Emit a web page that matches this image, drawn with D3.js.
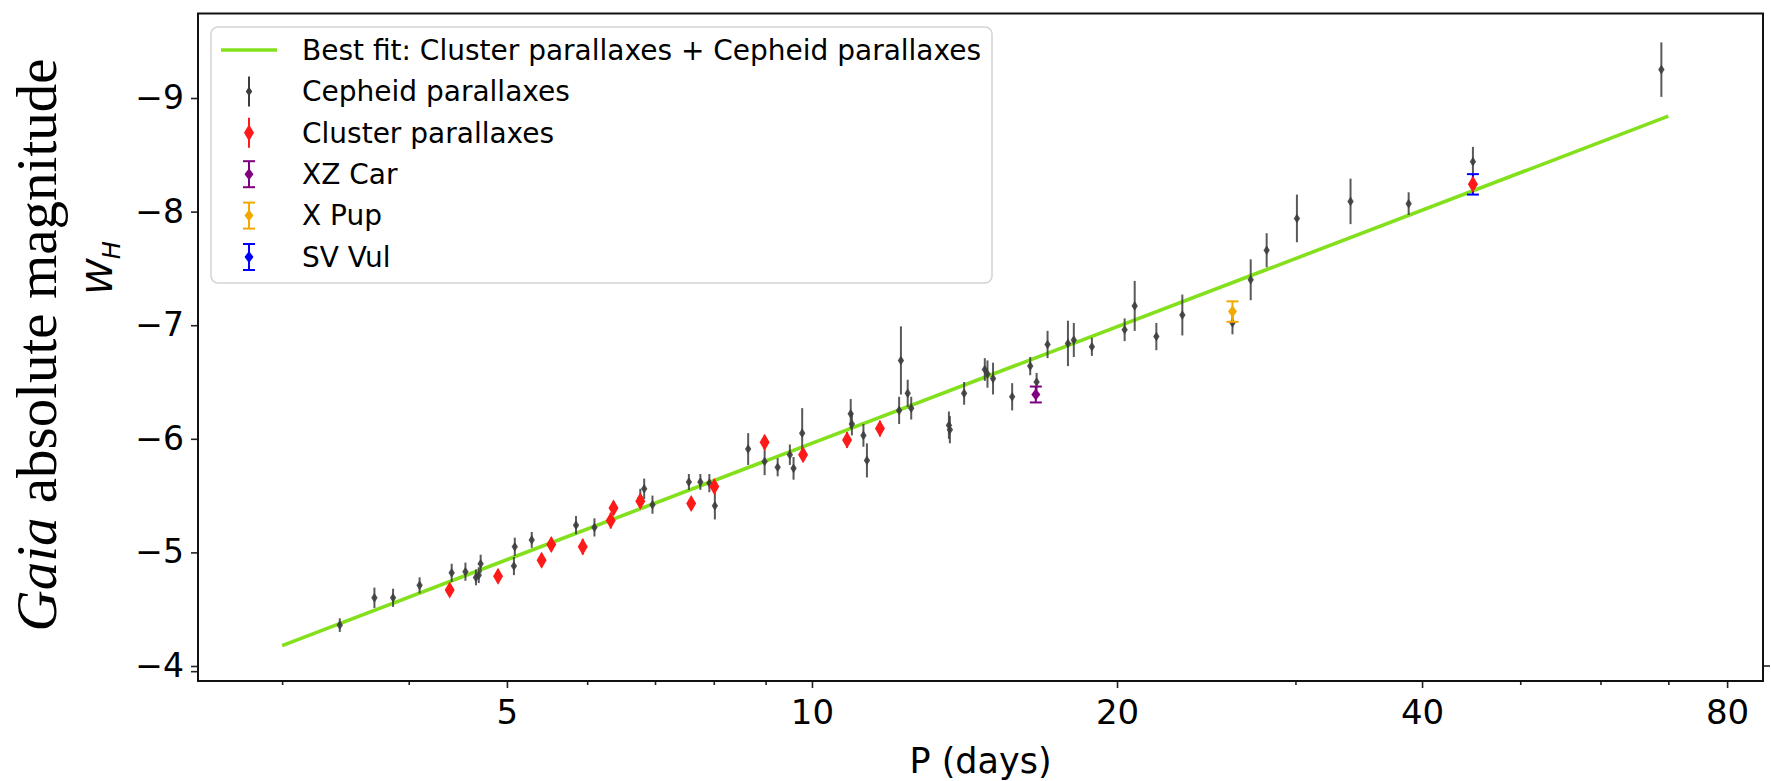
<!DOCTYPE html>
<html>
<head>
<meta charset="utf-8">
<script src="https://cdn.jsdelivr.net/npm/d3@7"></script>
<style>
  html, body { margin: 0; padding: 0; background: #fff; }
  svg { display: block; }
  .tick text { font-family: "DejaVu Sans", sans-serif; fill: #000; }
</style>
</head>
<body>
<div id="chart"></div>
<script>
// Period-luminosity relation (W_H vs log P).
var cepheidP = [3.42, 3.70, 3.86, 4.10, 4.41, 4.55, 4.66, 4.69, 4.71, 5.08, 5.09, 5.29, 5.85, 6.10,
  6.77, 6.83, 6.96, 7.56, 7.76, 7.92, 8.02, 8.65, 8.98, 9.25, 9.51, 9.59, 9.78, 10.92, 10.95,
  11.24, 11.33, 12.19, 12.24, 12.43, 12.53, 13.65, 13.68, 14.13, 14.81, 14.90, 15.09, 15.76,
  16.42, 16.66, 17.08, 17.89, 18.13, 18.89, 20.35, 20.82, 21.87, 23.2, 26.0, 27.1, 28.1, 30.1,
  34.0, 38.8, 44.9, 68.9];
var cepheidW = [-4.36, -4.60, -4.60, -4.71, -4.82, -4.83, -4.78, -4.80, -4.90, -4.88, -5.05, -5.11,
  -5.24, -5.22, -5.48, -5.56, -5.42, -5.62, -5.62, -5.61, -5.41, -5.91, -5.80, -5.75, -5.86, -5.74,
  -6.05, -6.22, -6.13, -6.03, -5.81, -6.25, -6.69, -6.40, -6.27, -6.12, -6.08, -6.40, -6.61, -6.57,
  -6.53, -6.37, -6.64, -6.50, -6.83, -6.84, -6.87, -6.81, -6.96, -7.17, -6.90, -7.09, -7.02, -7.40,
  -7.66, -7.94, -8.09, -8.07, -8.44, -9.25];
var cepheidErr = [0.06, 0.09, 0.08, 0.07, 0.08, 0.08, 0.07, 0.07, 0.08, 0.08, 0.08, 0.07, 0.08, 0.08,
  0.08, 0.09, 0.08, 0.07, 0.07, 0.08, 0.12, 0.14, 0.12, 0.08, 0.09, 0.10, 0.22, 0.13, 0.10, 0.10,
  0.15, 0.12, 0.30, 0.12, 0.10, 0.12, 0.12, 0.10, 0.10, 0.12, 0.14, 0.12, 0.08, 0.08, 0.12, 0.20,
  0.15, 0.08, 0.10, 0.22, 0.12, 0.18, 0.10, 0.18, 0.15, 0.21, 0.20, 0.10, 0.13, 0.24];

var clusterP = [4.39, 4.90, 5.41, 5.53, 5.94, 6.33, 6.37, 6.77, 7.60, 8.01, 8.98, 9.80, 10.83, 11.67, 44.9];
var clusterW = [-4.67, -4.79, -4.93, -5.07, -5.05, -5.28, -5.39, -5.45, -5.43, -5.58, -5.97, -5.86, -5.99, -6.09, -8.24];
var clusterErr = [0.05, 0.06, 0.06, 0.06, 0.07, 0.07, 0.06, 0.06, 0.05, 0.06, 0.06, 0.06, 0.07, 0.07, 0.05];

var specialNames = ["XZ Car", "X Pup", "SV Vul"];
var specialP = [16.63, 26.0, 44.9];
var specialW = [-6.39, -7.12, -8.24];
var specialErr = [0.07, 0.09, 0.09];
var specialColors = ["#800080", "#f2a900", "#0000ff"];

var fitP = [3.0, 70.0];
var fitW = [-4.18, -8.84];

var xMajorTicks = [5, 10, 20, 40, 80];
var xMinorTicks = [3, 4, 6, 7, 8, 9, 30, 50, 60, 70];
var yTicks = [-9, -8, -7, -6, -5, -4];

var legendLabels = ["Best fit: Cluster parallaxes + Cepheid parallaxes", "Cepheid parallaxes",
  "Cluster parallaxes", "XZ Car", "X Pup", "SV Vul"];

(function () {
  var width = 1771, height = 781;
  var left = 198, right = 1763, top = 13.5, bottom = 681;

  var svg = d3.select("#chart").append("svg")
    .attr("width", width).attr("height", height);

  var x = d3.scaleLog().domain([2.478, 86.8]).range([left, right]);
  var y = d3.scaleLinear().domain([-3.868, -9.744]).range([bottom, top]);

  var grey = "#3d3d3d", red = "#ff1a1a", green = "#84e01c";

  function diamond(w, h) {
    return "M0," + (-h) + "L" + w + ",0L0," + h + "L" + (-w) + ",0Z";
  }

  // axes
  var xAxis = svg.append("g").attr("transform", "translate(0," + bottom + ")")
    .call(d3.axisBottom(x).tickValues(xMajorTicks).tickFormat(d3.format("d")).tickSize(7).tickPadding(12));
  xAxis.selectAll("text").style("font-size", "34px");
  svg.append("g").attr("transform", "translate(0," + bottom + ")")
    .call(d3.axisBottom(x).tickValues(xMinorTicks).tickFormat("").tickSize(4));

  var yAxis = svg.append("g").attr("transform", "translate(" + left + ",0)")
    .call(d3.axisLeft(y).tickValues(yTicks).tickFormat(d3.format("d")).tickSize(7).tickPadding(7));
  yAxis.selectAll("text").style("font-size", "33px");
  svg.selectAll(".domain").remove();
  svg.selectAll(".tick line").attr("stroke", "#222").attr("stroke-width", 1.6);

  // odd extra ticks near -4 seen on the reference
  svg.append("line").attr("x1", left - 7).attr("x2", left).attr("y1", y(-3.95)).attr("y2", y(-3.95))
    .attr("stroke", "#222").attr("stroke-width", 1.6);
  svg.append("line").attr("x1", right).attr("x2", right + 7).attr("y1", y(-4)).attr("y2", y(-4))
    .attr("stroke", "#222").attr("stroke-width", 1.6);

  // best fit line
  svg.append("line")
    .attr("x1", x(fitP[0])).attr("y1", y(fitW[0]))
    .attr("x2", x(fitP[1])).attr("y2", y(fitW[1]))
    .attr("stroke", green).attr("stroke-width", 3.6);

  // Cepheid parallaxes
  var ceph = d3.range(cepheidP.length);
  var gC = svg.append("g");
  gC.selectAll("line").data(ceph).join("line")
    .attr("x1", function (i) { return x(cepheidP[i]); })
    .attr("x2", function (i) { return x(cepheidP[i]); })
    .attr("y1", function (i) { return y(cepheidW[i] - cepheidErr[i]); })
    .attr("y2", function (i) { return y(cepheidW[i] + cepheidErr[i]); })
    .attr("stroke", grey).attr("stroke-width", 2).attr("opacity", 0.85);
  gC.selectAll("path").data(ceph).join("path")
    .attr("transform", function (i) { return "translate(" + x(cepheidP[i]) + "," + y(cepheidW[i]) + ")"; })
    .attr("d", diamond(3.2, 4.8)).attr("fill", grey).attr("opacity", 0.9);

  // special stars with capped error bars
  var spec = d3.range(specialP.length);
  var gS = svg.append("g");
  spec.forEach(function (i) {
    var cx = x(specialP[i]);
    var g = gS.append("g").attr("stroke", specialColors[i]).attr("stroke-width", 2);
    g.append("line").attr("x1", cx).attr("x2", cx)
      .attr("y1", y(specialW[i] - specialErr[i])).attr("y2", y(specialW[i] + specialErr[i]));
    [specialW[i] - specialErr[i], specialW[i] + specialErr[i]].forEach(function (v) {
      g.append("line").attr("x1", cx - 6).attr("x2", cx + 6).attr("y1", y(v)).attr("y2", y(v));
    });
    gS.append("path").attr("transform", "translate(" + cx + "," + y(specialW[i]) + ")")
      .attr("d", diamond(4.5, 6)).attr("fill", specialColors[i]);
  });

  // Cluster parallaxes
  var clus = d3.range(clusterP.length);
  var gR = svg.append("g");
  gR.selectAll("line").data(clus).join("line")
    .attr("x1", function (i) { return x(clusterP[i]); })
    .attr("x2", function (i) { return x(clusterP[i]); })
    .attr("y1", function (i) { return y(clusterW[i] - clusterErr[i]); })
    .attr("y2", function (i) { return y(clusterW[i] + clusterErr[i]); })
    .attr("stroke", red).attr("stroke-width", 2);
  gR.selectAll("path").data(clus).join("path")
    .attr("transform", function (i) { return "translate(" + x(clusterP[i]) + "," + y(clusterW[i]) + ")"; })
    .attr("d", diamond(5, 8.5)).attr("fill", red);

  // frame
  svg.append("rect").attr("x", left).attr("y", top)
    .attr("width", right - left).attr("height", bottom - top)
    .attr("fill", "none").attr("stroke", "#111").attr("stroke-width", 2);

  // legend
  var lg = svg.append("g");
  lg.append("rect").attr("x", 211).attr("y", 27).attr("width", 781).attr("height", 256)
    .attr("rx", 7).attr("fill", "#fff").attr("fill-opacity", 0.85)
    .attr("stroke", "#d4d4d4").attr("stroke-width", 1.5);
  var rowY = d3.scaleLinear().domain([0, 5]).range([50, 257]);
  var hx = 249;
  lg.selectAll("text").data(legendLabels).join("text")
    .attr("x", 302).attr("y", function (d, i) { return rowY(i); })
    .attr("dy", "0.35em")
    .style("font-family", "DejaVu Sans, sans-serif").style("font-size", "28px")
    .text(function (d) { return d; });
  lg.append("line").attr("x1", 221).attr("x2", 277).attr("y1", rowY(0)).attr("y2", rowY(0))
    .attr("stroke", green).attr("stroke-width", 3.6);
  [[grey, 1], [red, 2]].forEach(function (s) {
    var cy = rowY(s[1]);
    lg.append("line").attr("x1", hx).attr("x2", hx).attr("y1", cy - 15).attr("y2", cy + 15)
      .attr("stroke", s[0]).attr("stroke-width", 2);
    lg.append("path").attr("transform", "translate(" + hx + "," + cy + ")")
      .attr("d", s[1] === 1 ? diamond(3.2, 4.8) : diamond(5, 8.5)).attr("fill", s[0]);
  });
  specialColors.forEach(function (c, i) {
    var cy = rowY(i + 3);
    var g = lg.append("g").attr("stroke", c).attr("stroke-width", 2);
    g.append("line").attr("x1", hx).attr("x2", hx).attr("y1", cy - 13).attr("y2", cy + 13);
    g.append("line").attr("x1", hx - 6).attr("x2", hx + 6).attr("y1", cy - 13).attr("y2", cy - 13);
    g.append("line").attr("x1", hx - 6).attr("x2", hx + 6).attr("y1", cy + 13).attr("y2", cy + 13);
    lg.append("path").attr("transform", "translate(" + hx + "," + cy + ")")
      .attr("d", diamond(4.5, 6)).attr("fill", c);
  });

  // axis labels
  svg.append("text").attr("x", (left + right) / 2).attr("y", 773)
    .attr("text-anchor", "middle")
    .style("font-family", "DejaVu Sans, sans-serif").style("font-size", "35px")
    .text("P (days)");

  var wh = svg.append("text").attr("transform", "translate(112,268) rotate(-90)")
    .attr("text-anchor", "middle")
    .style("font-family", "DejaVu Sans, sans-serif").style("font-style", "italic").style("font-size", "36px");
  wh.append("tspan").text("W");
  wh.append("tspan").attr("dy", 8).style("font-size", "24px").text("H");

  var gaia = svg.append("text").attr("transform", "translate(56,345) rotate(-90)")
    .attr("text-anchor", "middle")
    .style("font-family", "Liberation Serif, serif").style("font-size", "57px");
  gaia.append("tspan").style("font-style", "italic").text("Gaia");
  gaia.append("tspan").text(" absolute magnitude");
})();
</script>
</body>
</html>
